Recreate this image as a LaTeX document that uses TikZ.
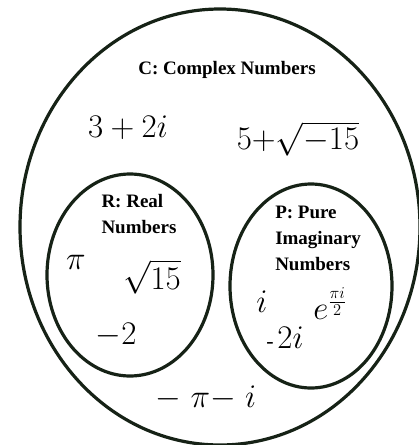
\RequirePackage{fix-cm}
\documentclass[tikz,border=0pt]{standalone}
\usepackage{fontspec}
\setmainfont{Liberation Serif}
\usetikzlibrary{positioning}
\definecolor{setline}{RGB}{22,34,22}
\tikzset{setring/.style={draw=setline,line width=3.2pt},
  setname/.style={font=\fontsize{19}{26}\selectfont\bfseries,align=left,inner sep=0pt},
  member/.style={font=\fontsize{33}{38}\selectfont,inner sep=0pt}}

\begin{document}
\begin{tikzpicture}[x=1pt,y=-1pt]
\useasboundingbox (0,0) rectangle (419,445);
% the three sets
\draw[setring] (220,227) ellipse (200 and 218);
\draw[setring] (130,275) ellipse (83 and 101);
\draw[setring] (311,286) ellipse (81 and 102);
% set names
\node[setname] (cname) at (227,70) {C: Complex Numbers};
\node[setname] (rname) at (139,214) {R: Real\\Numbers};
\node[setname] (pname) at (318,238) {P: Pure\\Imaginary\\Numbers};
% complex numbers
\node[member] (ca) at (128,128) {$3+2i$};
\node[member] (cb) at (298,139) {$5{+}\sqrt{-15}$};
\node[member] (cc) at (206,398) {$-\;\pi{-}\;i$};
% real numbers
\node[member] (ra) at (76,262) {$\pi$};
\node[member] (rb) at (152,277) {$\sqrt{15}$};
\node[member] (rc) at (116,335) {$-2$};
% pure imaginary numbers
\node[member] (pa) at (262,302) {$i$};
\node[member] (pb) at (285,338) {\fontsize{22}{26}\selectfont-\,\fontsize{33}{38}\selectfont$2i$};
\node[member] (pc) at (330,304) {$e^{\frac{\pi i}{2}}$};
\end{tikzpicture}
\end{document}
